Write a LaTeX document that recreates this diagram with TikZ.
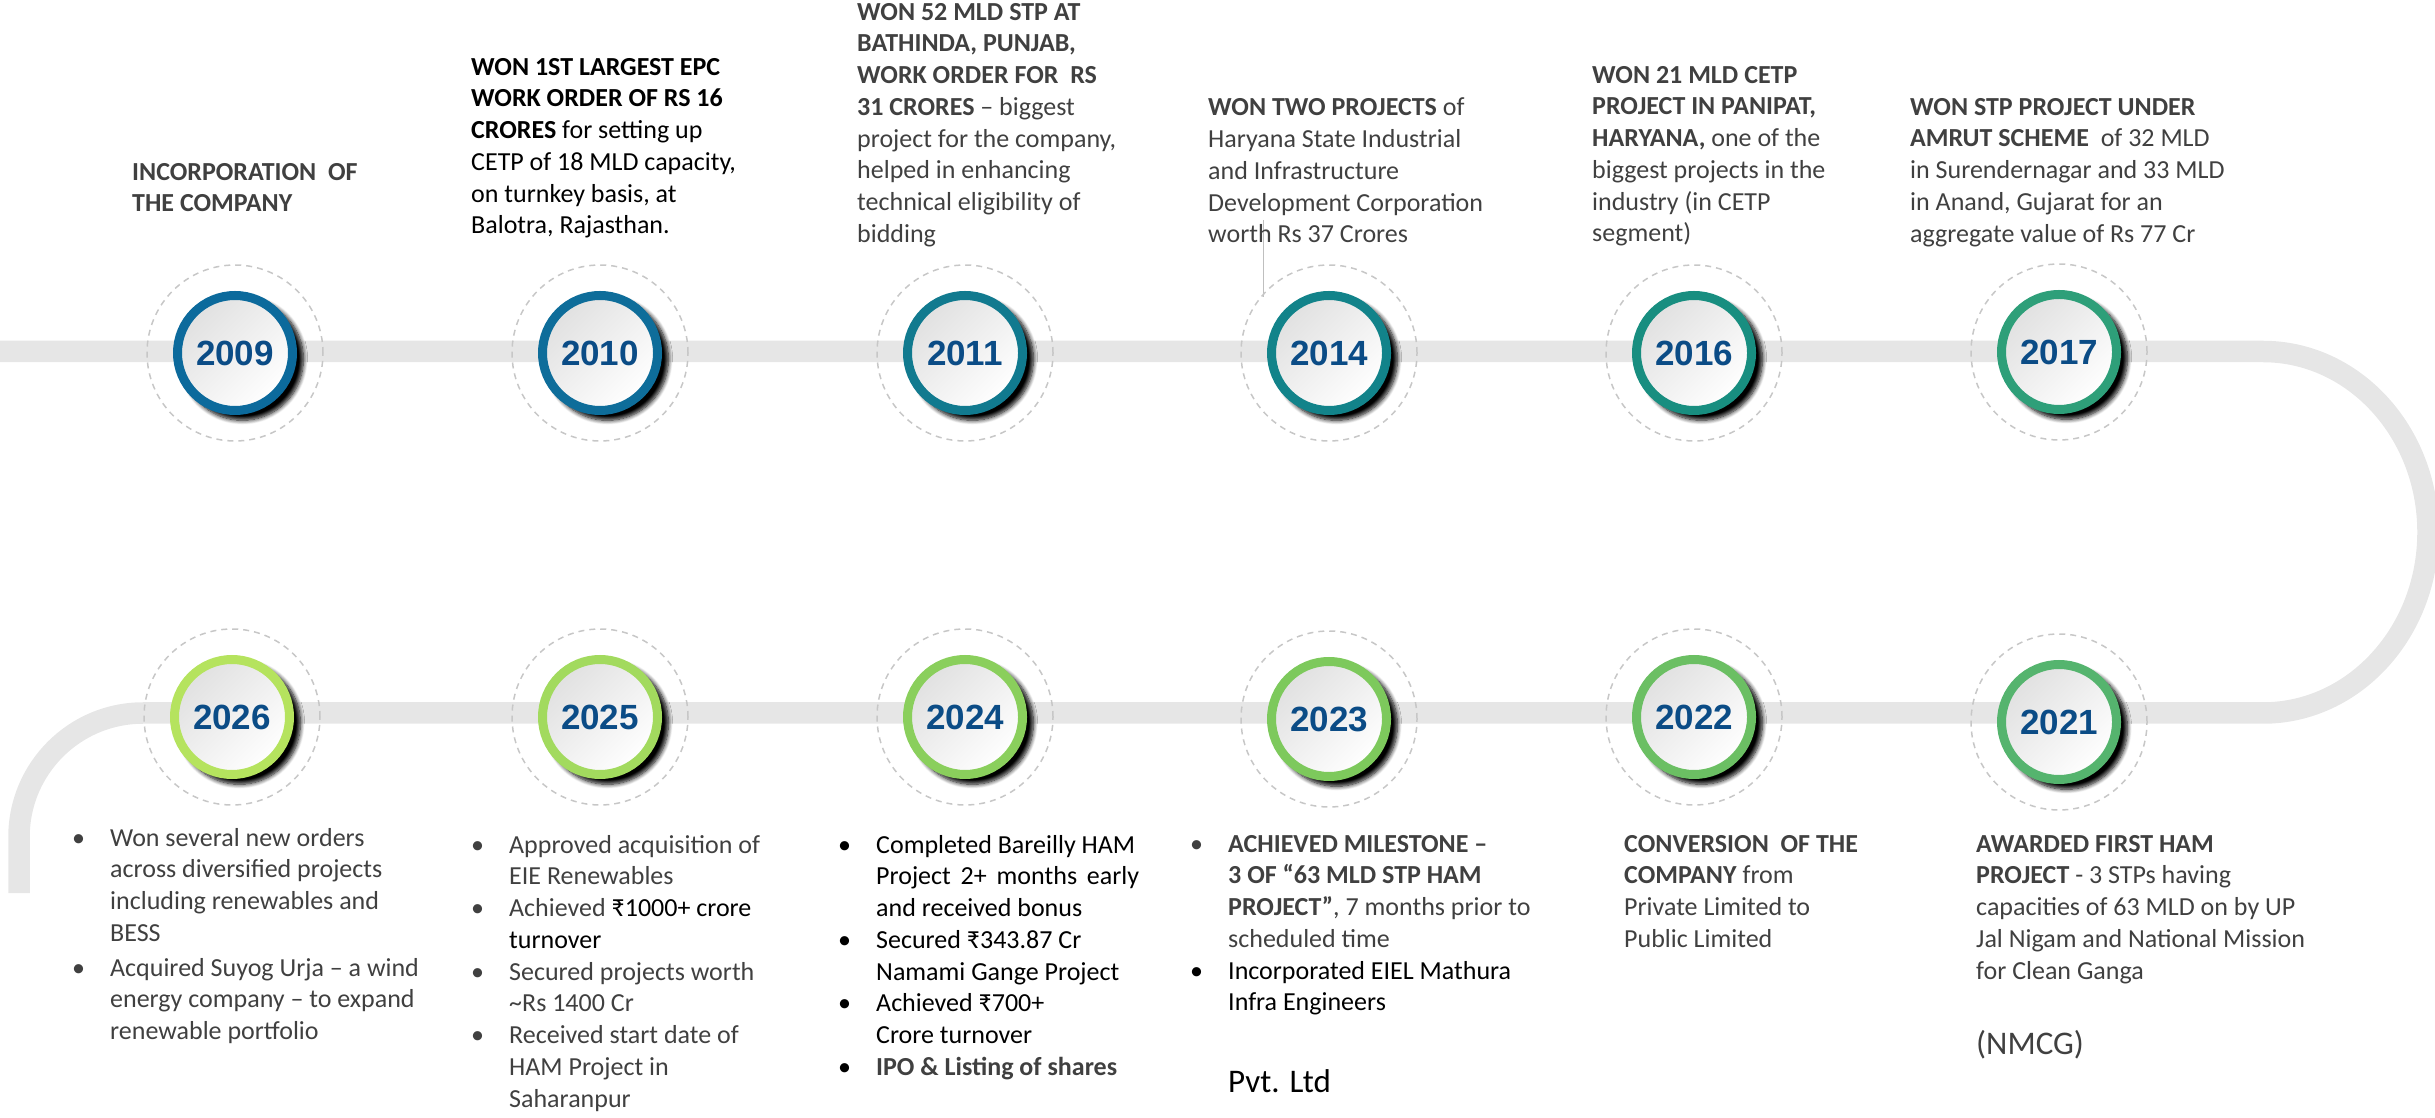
\documentclass[tikz,border=0pt]{standalone}
\usepackage{fontspec}
\setmainfont{Carlito}
\newfontfamily\yearfont{Liberation Sans}
\usetikzlibrary{shadows.blur}
\definecolor{road}{HTML}{E6E6E6}
\definecolor{txt}{HTML}{404040}
\definecolor{yeartxt}{HTML}{0B4C86}
\definecolor{c2009}{HTML}{0C6A9C}
\definecolor{c2010}{HTML}{0E6D9A}
\definecolor{c2011}{HTML}{117A8F}
\definecolor{c2014}{HTML}{12838A}
\definecolor{c2016}{HTML}{188E80}
\definecolor{c2017}{HTML}{2E9F79}
\definecolor{c2021}{HTML}{55B46E}
\definecolor{c2022}{HTML}{6BBF63}
\definecolor{c2023}{HTML}{7DC95C}
\definecolor{c2024}{HTML}{8ACF5C}
\definecolor{c2025}{HTML}{A2DA5E}
\definecolor{c2026}{HTML}{B5E35E}
\newcommand{\bul}{\makebox[38pt][l]{\textbullet}}
\newcommand{\ind}{\hspace*{38pt}}
\tikzset{
	roadline/.style={draw=road, line width=21.5pt},
	halo/.style={draw=black!22, line width=1.5pt, dash pattern=on 6pt off 5pt},
	year/.style={circle, draw=#1, line width=9pt, minimum size=115pt, inner sep=0pt,
		shading=axis, top color=black!12, bottom color=white, shading angle=45,
		blur shadow={shadow xshift=7pt, shadow yshift=-6pt, shadow scale=1.06, shadow blur radius=4pt, shadow blur steps=8, shadow opacity=100},
		font=\yearfont\bfseries\fontsize{35}{35}\selectfont, text=yeartxt},
	info/.style={anchor=north west, inner sep=0pt, align=left, text=txt,
		font=\fontsize{26}{31.75}\selectfont, execute at begin node=\strut},
	extra/.style={anchor=base west, inner sep=0pt, font=\fontsize{33}{33}\selectfont}
}
\begin{document}
\begin{tikzpicture}[x=1pt, y=1pt]
	\useasboundingbox (0,0) rectangle (2435,1117);
	\draw[roadline] (0,765.5) -- (2263,765.5) arc[start angle=90, end angle=-90, x radius=165, y radius=180.75]
		-- (143,404) arc[start angle=90, end angle=180, radius=124] -- (19,224);
	\draw[black!25, line width=0.8pt] (1263,897) -- (1263,820);

	\coordinate (p2009) at (235,764);
	\coordinate (p2010) at (600,764);
	\coordinate (p2011) at (965,764);
	\coordinate (p2014) at (1329,764);
	\coordinate (p2016) at (1694,764);
	\coordinate (p2017) at (2059,765);
	\coordinate (p2026) at (232,400);
	\coordinate (p2025) at (600,400);
	\coordinate (p2024) at (965,400);
	\coordinate (p2023) at (1329,398);
	\coordinate (p2022) at (1694,400);
	\coordinate (p2021) at (2059,395);

	\draw[halo] (p2009) circle[radius=88];
	\draw[halo] (p2010) circle[radius=88];
	\draw[halo] (p2011) circle[radius=88];
	\draw[halo] (p2014) circle[radius=88];
	\draw[halo] (p2016) circle[radius=88];
	\draw[halo] (p2017) circle[radius=88];
	\draw[halo] (p2026) circle[radius=88];
	\draw[halo] (p2025) circle[radius=88];
	\draw[halo] (p2024) circle[radius=88];
	\draw[halo] (p2023) circle[radius=88];
	\draw[halo] (p2022) circle[radius=88];
	\draw[halo] (p2021) circle[radius=88];

	\node[year=c2009] (y2009) at (p2009) {2009};
	\node[year=c2010] (y2010) at (p2010) {2010};
	\node[year=c2011] (y2011) at (p2011) {2011};
	\node[year=c2014] (y2014) at (p2014) {2014};
	\node[year=c2016] (y2016) at (p2016) {2016};
	\node[year=c2017] (y2017) at (p2017) {2017};
	\node[year=c2026] (y2026) at (p2026) {2026};
	\node[year=c2025] (y2025) at (p2025) {2025};
	\node[year=c2024] (y2024) at (p2024) {2024};
	\node[year=c2023] (y2023) at (p2023) {2023};
	\node[year=c2022] (y2022) at (p2022) {2022};
	\node[year=c2021] (y2021) at (p2021) {2021};

	\node[info, font=\bfseries\fontsize{26}{31.75}\selectfont] (t2009) at (132,954.2) {INCORPORATION~ OF\\THE COMPANY};
	\node[info, text=black] (t2010) at (471,1059.2) {\textbf{WON 1ST LARGEST EPC}\\\textbf{WORK ORDER OF RS 16}\\\textbf{CRORES} for setting up\\CETP of 18 MLD capacity,\\on turnkey basis, at\\Balotra, Rajasthan.};
	\node[info] (t2011) at (857,1114.2) {\textbf{WON 52 MLD STP AT}\\\textbf{BATHINDA, PUNJAB,}\\\textbf{WORK ORDER FOR~ RS}\\\textbf{31 CRORES} – biggest\\project for the company,\\helped in enhancing\\technical eligibility of\\bidding};
	\node[info] (t2014) at (1208,1019.2) {\textbf{WON TWO PROJECTS} of\\Haryana State Industrial\\and Infrastructure\\Development Corporation\\worth Rs 37 Crores};
	\node[info] (t2016) at (1592,1051.2) {\textbf{WON 21 MLD CETP}\\\textbf{PROJECT IN PANIPAT,}\\\textbf{HARYANA,} one of the\\biggest projects in the\\industry (in CETP\\segment)};
	\node[info] (t2017) at (1910,1019.2) {\textbf{WON STP PROJECT UNDER}\\\textbf{AMRUT SCHEME}~ of 32 MLD\\in Surendernagar and 33 MLD\\in Anand, Gujarat for an\\aggregate value of Rs 77 Cr};

	\node[info] (t2026) at (72,289.2) {\bul Won several new orders\\\ind across diversified projects\\\ind including renewables and\\\ind BESS\\[3pt]\bul Acquired Suyog Urja – a wind\\\ind energy company – to expand\\\ind renewable portfolio};
	\node[info] (t2025) at (471,282.2) {\bul Approved acquisition of\\\ind EIE Renewables\\\bul Achieved {\color{black}₹1000+ crore}\\\ind {\color{black}turnover}\\\bul Secured projects worth\\\ind \textasciitilde Rs 1400 Cr\\\bul Received start date of\\\ind HAM Project in\\\ind Saharanpur};
	\node[info, text=black] (t2024) at (838,282.2) {\bul Completed Bareilly HAM\\\ind \makebox[263pt][s]{Project 2+ months early}\\\ind and received bonus\\\bul Secured ₹343.87 Cr\\\ind Namami Gange Project\\\bul Achieved ₹700+\\\ind Crore turnover\\\bul {\color{txt}\textbf{IPO \& Listing of shares}}};
	\node[info] (t2023) at (1190,282.2) {\bul \textbf{ACHIEVED MILESTONE –}\\\ind \textbf{3 OF “63 MLD STP HAM}\\\ind \textbf{PROJECT”}, 7 months prior to\\\ind scheduled time\\{\color{black}\bul Incorporated EIEL Mathura}\\\ind {\color{black}Infra Engineers}};
	\node[extra, text=black] (t2023b) at (1228,25) {Pvt. Ltd};
	\node[info] (t2022) at (1624,282.2) {\textbf{CONVERSION~ OF THE}\\\textbf{COMPANY} from\\Private Limited to\\Public Limited};
	\node[info] (t2021) at (1976,282.2) {\textbf{AWARDED FIRST HAM}\\\textbf{PROJECT} - 3 STPs having\\capacities of 63 MLD on by UP\\Jal Nigam and National Mission\\for Clean Ganga};
	\node[extra, text=txt] (t2021b) at (1976,63) {(NMCG)};
\end{tikzpicture}
\end{document}
